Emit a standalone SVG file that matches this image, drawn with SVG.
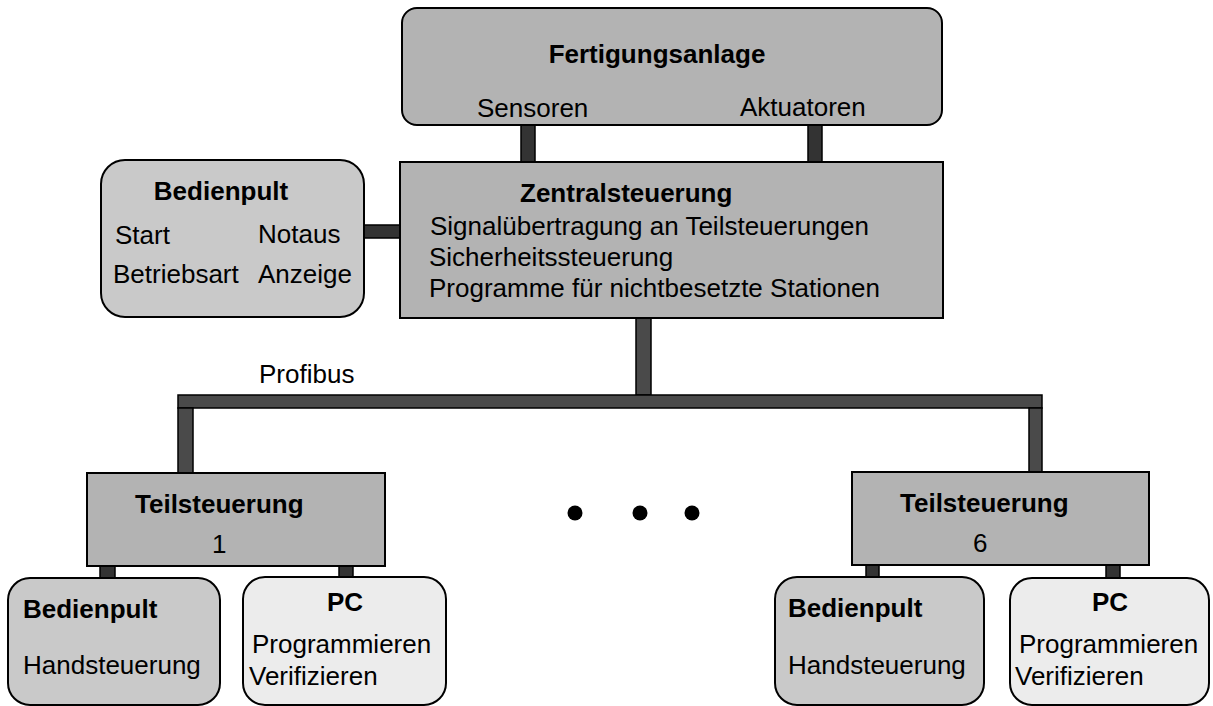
<svg xmlns="http://www.w3.org/2000/svg" width="1213" height="706" viewBox="0 0 1213 706">
<style>
text{font-family:"Liberation Sans",Arial,sans-serif;font-size:26px;fill:#000}
.b{font-weight:bold}
.mid{fill:#b3b3b3;stroke:#000;stroke-width:2}
.lt{fill:#c9c9c9;stroke:#000;stroke-width:2}
.pc{fill:#ececec;stroke:#000;stroke-width:2}
.c{fill:#333;stroke:#000;stroke-width:1.5}
.bus{fill:#4a4a4a;stroke:#000;stroke-width:1.5}
</style>
<rect width="1213" height="706" fill="#fff"/>
<g id="connectors">
<rect class="c" x="521" y="125" width="14" height="37"/>
<rect class="c" x="808" y="125" width="14" height="37"/>
<rect class="c" x="364" y="225" width="36" height="13"/>
<rect class="bus" x="636" y="318" width="15" height="77"/>
<rect class="bus" x="178" y="395" width="864" height="13"/>
<rect class="bus" x="178" y="408" width="15" height="65"/>
<rect class="bus" x="1029" y="408" width="13" height="64"/>
<rect class="c" x="100" y="566" width="15" height="12"/>
<rect class="c" x="339" y="566" width="14" height="11"/>
<rect class="c" x="866" y="565" width="13" height="12"/>
<rect class="c" x="1106" y="565" width="14" height="13"/>
</g>
<g id="fertigungsanlage">
<rect class="mid" x="402" y="8" width="540" height="117" rx="15"/>
<text class="b" x="657" y="63" text-anchor="middle">Fertigungsanlage</text>
<text x="477" y="117">Sensoren</text>
<text x="740" y="116">Aktuatoren</text>
</g>
<g id="bedienpult-zentral">
<rect class="lt" x="101" y="160" width="263" height="157" rx="24"/>
<text class="b" x="221" y="200" text-anchor="middle">Bedienpult</text>
<text x="115" y="244">Start</text>
<text x="258" y="243">Notaus</text>
<text x="113" y="283">Betriebsart</text>
<text x="258" y="283">Anzeige</text>
</g>
<g id="zentralsteuerung">
<rect class="mid" x="400" y="162" width="543" height="156"/>
<text class="b" x="520" y="202">Zentralsteuerung</text>
<text x="430" y="235">Signalübertragung an Teilsteuerungen</text>
<text x="429" y="266">Sicherheitssteuerung</text>
<text x="429" y="297">Programme für nichtbesetzte Stationen</text>
</g>
<g id="profibus">
<text x="259" y="383">Profibus</text>
</g>
<g id="teilsteuerung1">
<rect class="mid" x="87" y="473" width="298" height="93"/>
<text class="b" x="135" y="513">Teilsteuerung</text>
<text x="212" y="553">1</text>
</g>
<g id="teilsteuerung6">
<rect class="mid" x="852" y="472" width="297" height="93"/>
<text class="b" x="900" y="512">Teilsteuerung</text>
<text x="973" y="552">6</text>
</g>
<g id="dots">
<circle cx="575" cy="513" r="7.5" fill="#000"/>
<circle cx="640" cy="513" r="7.5" fill="#000"/>
<circle cx="692" cy="513" r="7.5" fill="#000"/>
</g>
<g id="bedienpult1">
<rect class="lt" x="8" y="578" width="212" height="127" rx="22"/>
<text class="b" x="23" y="618">Bedienpult</text>
<text x="23" y="674">Handsteuerung</text>
</g>
<g id="pc1">
<rect class="pc" x="243" y="577" width="203" height="128" rx="22"/>
<text class="b" x="345" y="611" text-anchor="middle">PC</text>
<text x="252" y="653">Programmieren</text>
<text x="249" y="685">Verifizieren</text>
</g>
<g id="bedienpult6">
<rect class="lt" x="775" y="577" width="209" height="128" rx="22"/>
<text class="b" x="788" y="617">Bedienpult</text>
<text x="788" y="674">Handsteuerung</text>
</g>
<g id="pc6">
<rect class="pc" x="1010" y="578" width="199" height="127" rx="22"/>
<text class="b" x="1110" y="611" text-anchor="middle">PC</text>
<text x="1019" y="653">Programmieren</text>
<text x="1015" y="685">Verifizieren</text>
</g>
</svg>
